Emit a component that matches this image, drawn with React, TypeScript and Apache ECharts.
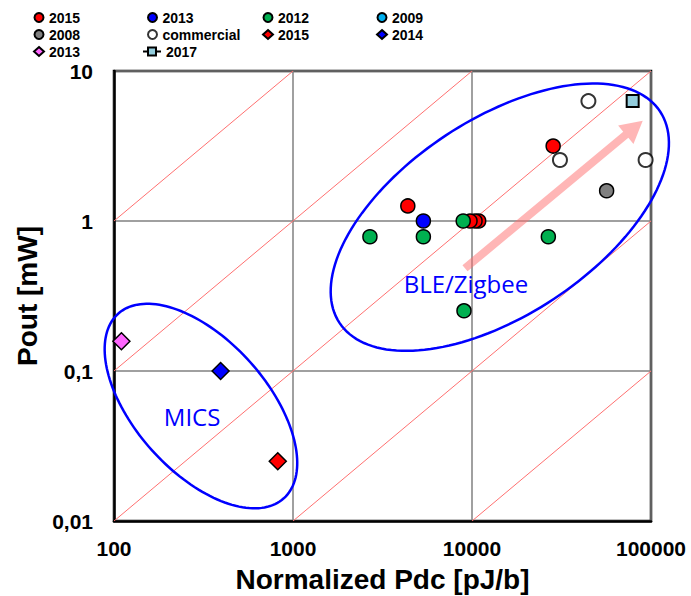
import React, { useEffect, useRef } from 'react';
import * as echarts from 'echarts';

// ---- axes ----
const xTicks = [100, 1000, 10000, 100000];
const xTickLabels = ['100', '1000', '10000', '100000'];
const yTicks = [0.01, 0.1, 1, 10];
const yTickLabels = ['0,01', '0,1', '1', '10'];

// ---- data (Normalized Pdc [pJ/b], Pout [mW]) ----
const red2015: number[][] = [[28400, 3.16], [4380, 1.26], [10900, 1.0], [10400, 1.0], [9750, 1.0]];
const blue2013: number[][] = [[5350, 1.0]];
const green2012: number[][] = [[2690, 0.785], [5350, 0.785], [8930, 1.0], [26700, 0.785], [9020, 0.252]];
const cyan2009: number[][] = [];
const gray2008: number[][] = [[56500, 1.59]];
const commercial: number[][] = [[44700, 6.3], [31000, 2.55], [93300, 2.55]];
const redDiamond2015: number[][] = [[822, 0.025]];
const blueDiamond2014: number[][] = [[394, 0.1]];
const pinkDiamond2013: number[][] = [[110, 0.158]];
const square2017: number[][] = [[79000, 6.3]];

// constant-efficiency lines (Pout/Pdc = const)
const efficiencyLines: number[][][] = [
  [[100, 1], [1000, 10]],
  [[100, 0.1], [10000, 10]],
  [[100, 0.01], [100000, 10]],
  [[1000, 0.01], [100000, 1]],
  [[10000, 0.01], [100000, 0.1]],
];

// annotations (data coordinates)
const bleEllipseCenter: number[][] = [[14300, 1.06]];
const micsEllipseCenter: number[][] = [[306, 0.0584]];
const trendArrow: number[][] = [[9140, 0.484, 89900, 4.66]];
const bleLabel: number[][] = [[9250, 0.386]];
const micsLabel: number[][] = [[273, 0.0501]];

const BOLD_FONT = "'Liberation Sans', Arial, sans-serif";

function ellipseRenderer(a: number, b: number, angleDeg: number) {
  return (_params: any, api: any) => {
    const c = api.coord([api.value(0), api.value(1)]);
    const th = (angleDeg * Math.PI) / 180;
    const pts: number[][] = [];
    const n = 160;
    for (let i = 0; i <= n; i++) {
      const t = (i / n) * Math.PI * 2;
      const dx = a * Math.cos(t) * Math.cos(th) - b * Math.sin(t) * Math.sin(th);
      const dy = a * Math.cos(t) * Math.sin(th) + b * Math.sin(t) * Math.cos(th);
      pts.push([c[0] + dx, c[1] - dy]);
    }
    return {
      type: 'polyline',
      shape: { points: pts },
      style: { stroke: '#0000ff', lineWidth: 2.5, fill: null },
    };
  };
}

function arrowRenderer(_params: any, api: any) {
  const p1 = api.coord([api.value(0), api.value(1)]);
  const p2 = api.coord([api.value(2), api.value(3)]);
  const dx = p2[0] - p1[0];
  const dy = p2[1] - p1[1];
  const L = Math.hypot(dx, dy);
  const ux = dx / L, uy = dy / L;
  const nx = -uy, ny = ux;
  const sw = 4, hw = 12, hl = 22;
  const nk = [p2[0] - ux * hl, p2[1] - uy * hl];
  const pts = [
    [p1[0] + nx * sw, p1[1] + ny * sw],
    [nk[0] + nx * sw, nk[1] + ny * sw],
    [nk[0] + nx * hw, nk[1] + ny * hw],
    [p2[0], p2[1]],
    [nk[0] - nx * hw, nk[1] - ny * hw],
    [nk[0] - nx * sw, nk[1] - ny * sw],
    [p1[0] - nx * sw, p1[1] - ny * sw],
  ];
  return {
    type: 'polygon',
    shape: { points: pts },
    style: { fill: 'rgba(255, 110, 110, 0.5)', stroke: null },
  };
}

function textRenderer(text: string) {
  return (_params: any, api: any) => {
    const c = api.coord([api.value(0), api.value(1)]);
    return {
      type: 'text',
      x: c[0],
      y: c[1],
      style: {
        text,
        fill: '#0000ff',
        fontSize: 24,
        fontFamily: "'Open Sans', 'Noto Sans', sans-serif",
        align: 'center',
        verticalAlign: 'middle',
      },
    };
  };
}

const circleStyle = (color: string) => ({ color, borderColor: '#000', borderWidth: 1.5, opacity: 1 });

const stripMark = (name: string) => name.replace(/ [●◆■]$/, '');

export default function App() {
  const ref = useRef<HTMLDivElement>(null);

  useEffect(() => {
    if (!ref.current) return;
    const chart = echarts.init(ref.current, undefined, { renderer: 'svg' });

    const legendBase: any = {
      orient: 'vertical',
      itemGap: 0,
      itemWidth: 10,
      itemHeight: 9,
      padding: 0,
      selectedMode: false,
      formatter: stripMark,
      textStyle: { fontFamily: BOLD_FONT, fontWeight: 'bold', fontSize: 14, color: '#000', lineHeight: 17 },
    };

    const lineSeries = efficiencyLines.map((d, i) => ({
      type: 'line',
      name: 'eff' + i,
      data: d,
      symbol: 'none',
      silent: true,
      lineStyle: { color: '#ff7070', width: 1 },
      z: 1,
    }));

    const option: any = {
      animation: false,
      backgroundColor: '#fff',
      grid: {
        left: 114,
        right: 40,
        top: 71,
        bottom: 75,
        show: true,
        borderColor: '#000',
        borderWidth: 2.5,
        containLabel: false,
        outerBoundsMode: 'none',
      },
      legend: [
        { ...legendBase, left: 33, top: 9, data: ['2015 ●', '2008 ●', '2013 ◆'] },
        { ...legendBase, left: 147, top: 9, data: ['2013 ●', 'commercial ●'] },
        { ...legendBase, left: 142, top: 43, itemWidth: 18, itemHeight: 10, data: ['2017 ■'] },
        { ...legendBase, left: 262, top: 9, data: ['2012 ●', '2015 ◆'] },
        { ...legendBase, left: 376, top: 9, data: ['2009 ●', '2014 ◆'] },
      ],
      xAxis: {
        type: 'log',
        logBase: 10,
        min: xTicks[0],
        max: xTicks[xTicks.length - 1],
        axisLine: { show: true, lineStyle: { color: '#000', width: 2.5 } },
        axisTick: { show: false },
        minorTick: { show: false },
        splitLine: { show: true, lineStyle: { color: '#808080', width: 1.5 } },
        axisLabel: {
          formatter: (v: number) => xTickLabels[Math.round(Math.log10(v)) - 2] ?? '',
          fontFamily: BOLD_FONT,
          fontWeight: 'bold',
          fontSize: 21,
          color: '#000',
          margin: 17,
        },
        name: 'Normalized Pdc [pJ/b]',
        nameLocation: 'middle',
        nameGap: 44,
        nameTextStyle: { fontFamily: BOLD_FONT, fontWeight: 'bold', fontSize: 28, color: '#000' },
      },
      yAxis: {
        type: 'log',
        logBase: 10,
        min: yTicks[0],
        max: yTicks[yTicks.length - 1],
        axisLine: { show: true, lineStyle: { color: '#000', width: 2.5 } },
        axisTick: { show: false },
        minorTick: { show: false },
        splitLine: { show: true, lineStyle: { color: '#808080', width: 1.5 } },
        axisLabel: {
          formatter: (v: number) => yTickLabels[Math.round(Math.log10(v)) + 2] ?? '',
          fontFamily: BOLD_FONT,
          fontWeight: 'bold',
          fontSize: 21,
          color: '#000',
          margin: 21,
        },
        name: 'Pout [mW]',
        nameLocation: 'middle',
        nameGap: 72,
        nameRotate: 90,
        nameTextStyle: { fontFamily: BOLD_FONT, fontWeight: 'bold', fontSize: 28, color: '#000' },
      },
      series: [
        ...lineSeries,
        { type: 'custom', name: 'arrow', data: trendArrow, encode: { x: [0, 2], y: [1, 3] }, renderItem: arrowRenderer, silent: true, z: 2 },
        { type: 'custom', name: 'bleEllipse', data: bleEllipseCenter, encode: { x: 0, y: 1 }, renderItem: ellipseRenderer(192, 98, 33.4), silent: true, z: 2 },
        { type: 'custom', name: 'micsEllipse', data: micsEllipseCenter, encode: { x: 0, y: 1 }, renderItem: ellipseRenderer(124, 66, -48.1), silent: true, z: 2 },
        { type: 'custom', name: 'bleText', data: bleLabel, encode: { x: 0, y: 1 }, renderItem: textRenderer('BLE/Zigbee'), silent: true, z: 2 },
        { type: 'custom', name: 'micsText', data: micsLabel, encode: { x: 0, y: 1 }, renderItem: textRenderer('MICS'), silent: true, z: 2 },
        { type: 'scatter', name: '2015 ●', data: red2015, symbol: 'circle', symbolSize: 14, itemStyle: circleStyle('#ff0000'), z: 3 },
        { type: 'scatter', name: '2013 ●', data: blue2013, symbol: 'circle', symbolSize: 14, itemStyle: circleStyle('#0000ff'), z: 3 },
        { type: 'scatter', name: '2012 ●', data: green2012, symbol: 'circle', symbolSize: 14, itemStyle: circleStyle('#00b050'), z: 3 },
        { type: 'scatter', name: '2009 ●', data: cyan2009, symbol: 'circle', symbolSize: 14, itemStyle: circleStyle('#00b0f0'), z: 3 },
        { type: 'scatter', name: '2008 ●', data: gray2008, symbol: 'circle', symbolSize: 14, itemStyle: circleStyle('#808080'), z: 3 },
        { type: 'scatter', name: 'commercial ●', data: commercial, symbol: 'circle', symbolSize: 14, itemStyle: { color: '#fff', borderColor: '#000', borderWidth: 2 }, z: 3 },
        { type: 'scatter', name: '2015 ◆', data: redDiamond2015, symbol: 'diamond', symbolSize: 17, itemStyle: circleStyle('#ff0000'), z: 3 },
        { type: 'scatter', name: '2014 ◆', data: blueDiamond2014, symbol: 'diamond', symbolSize: 17, itemStyle: circleStyle('#0000ff'), z: 3 },
        { type: 'scatter', name: '2013 ◆', data: pinkDiamond2013, symbol: 'diamond', symbolSize: 17, itemStyle: circleStyle('#ff66ff'), z: 3 },
        {
          type: 'line',
          name: '2017 ■',
          data: square2017,
          symbol: 'rect',
          symbolSize: 12,
          showSymbol: true,
          itemStyle: { color: '#93cddd', borderColor: '#000', borderWidth: 2 },
          lineStyle: { color: '#000', width: 2 },
          z: 3,
        },
      ],
    };

    chart.setOption(option);
    return () => chart.dispose();
  }, []);

  return (
    <div
      ref={ref}
      style={{ position: 'absolute', left: 0, top: 0, width: 691, height: 596, background: '#fff' }}
    />
  );
}
